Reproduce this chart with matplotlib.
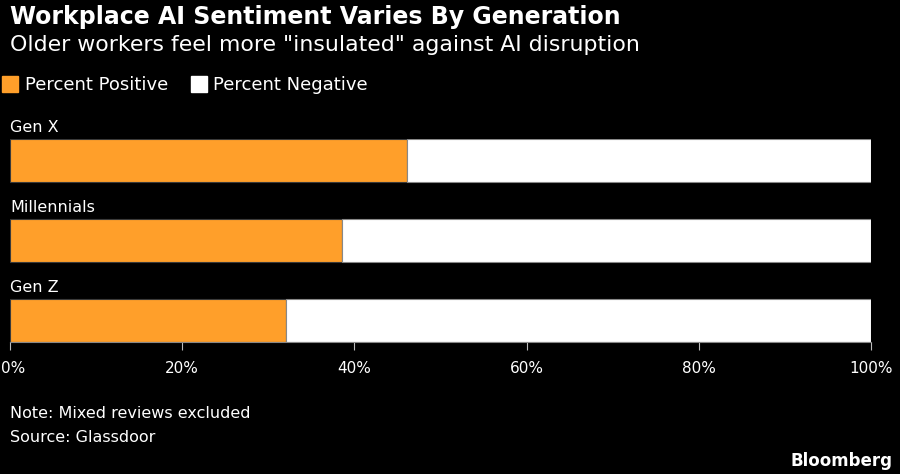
import matplotlib.pyplot as plt
import matplotlib.transforms as mtransforms
from matplotlib.lines import Line2D

groups = ["Gen X", "Millennials", "Gen Z"]
positive = [46.1, 38.6, 32.1]
negative = [100 - p for p in positive]
ticks = [0, 20, 40, 60, 80, 100]
tick_labels = ["0%", "20%", "40%", "60%", "80%", "100%"]

orange = "#ff9f2a"
bg = "black"

fig = plt.figure(figsize=(9, 4.74), dpi=100, facecolor=bg)
ax = fig.add_axes([10 / 900, 1 - 342 / 474, 861 / 900, 203 / 474], facecolor=bg)

ypos = [2, 1, 0]
h = 0.54
ax.barh(ypos, positive, height=h, color=orange, edgecolor="#3a3a3a", linewidth=0.8)
ax.barh(ypos, negative, left=positive, height=h, color="white",
        edgecolor="#888888", linewidth=0.8)

for y, name in zip(ypos, groups):
    ax.text(0, y + h / 2 + 0.14, name, color="white", fontsize=11.5,
            va="center", ha="left", clip_on=False)

ax.set_xlim(0, 100)
ax.set_ylim(-h / 2, 2 + h / 2)
ax.set_yticks([])
ax.set_xticks(ticks)
ax.set_xticklabels(tick_labels)
ax.tick_params(axis="x", length=6, width=0.8, labelsize=11,
               labelcolor="white", pad=8, color="#bbbbbb")
# keep the 0% label inside the figure
first = ax.get_xticklabels()[0]
first.set_horizontalalignment("left")
first.set_transform(first.get_transform() +
                    mtransforms.ScaledTranslation(-9 / 100, 0, fig.dpi_scale_trans))
for s in ["top", "right", "left"]:
    ax.spines[s].set_visible(False)
ax.spines["bottom"].set_color("#888888")

fig.text(10 / 900, 1 - 17 / 474, "Workplace AI Sentiment Varies By Generation",
         color="white", fontsize=17, fontweight="bold", va="center")
fig.text(10 / 900, 1 - 45 / 474, 'Older workers feel more "insulated" against AI disruption',
         color="white", fontsize=15.8, va="center")

handles = [Line2D([], [], marker="s", ls="", color=orange, markersize=11),
           Line2D([], [], marker="s", ls="", color="white", markersize=11)]
leg = fig.legend(handles, ["Percent Positive", "Percent Negative"], loc="center left",
                 bbox_to_anchor=(-15 / 900, 1 - 85 / 474), ncol=2, frameon=False,
                 fontsize=13, labelcolor="white", handletextpad=0.3, columnspacing=1.2,
                 handlelength=1.0)

fig.text(10 / 900, 1 - 413 / 474, "Note: Mixed reviews excluded", color="white",
         fontsize=11.5, va="center")
fig.text(10 / 900, 1 - 437 / 474, "Source: Glassdoor", color="white",
         fontsize=11.5, va="center")
fig.text(893 / 900, 1 - 461 / 474, "Bloomberg", color="white", fontsize=12,
         fontweight="bold", va="center", ha="right")

fig.savefig("out.png", facecolor=bg)
